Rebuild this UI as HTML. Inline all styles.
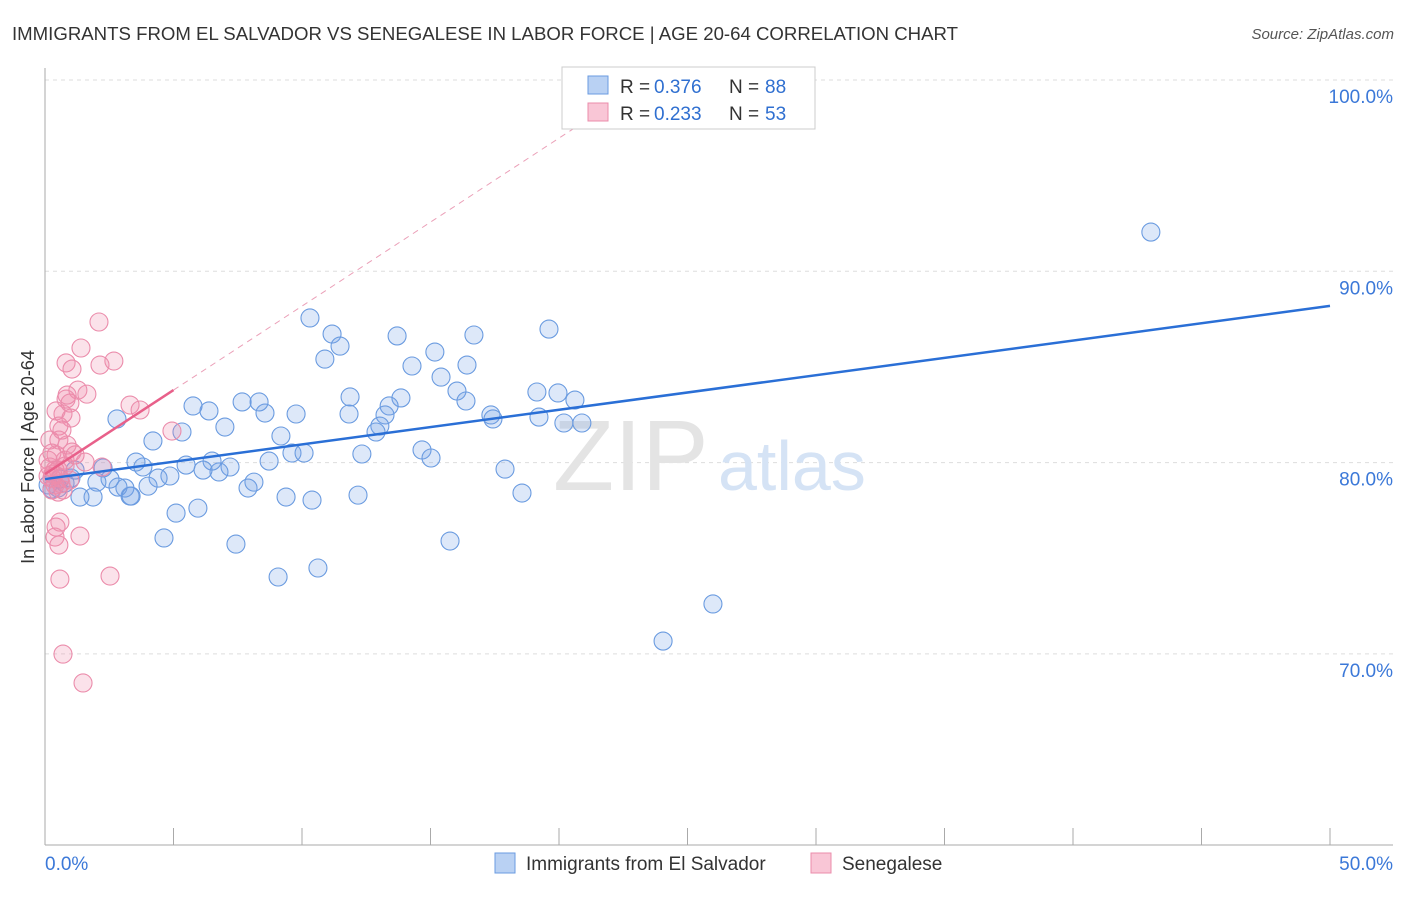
<!DOCTYPE html>
<html><head><meta charset="utf-8"><style>
body{margin:0;background:#fff;font-family:"Liberation Sans",sans-serif}
svg text{font-family:"Liberation Sans",sans-serif}
</style></head><body>
<svg id="chart" width="1406" height="892" viewBox="0 0 1406 892" xmlns="http://www.w3.org/2000/svg">
<text x="12" y="40" font-size="18" fill="#333" textLength="946" lengthAdjust="spacingAndGlyphs">IMMIGRANTS FROM EL SALVADOR VS SENEGALESE IN LABOR FORCE | AGE 20-64 CORRELATION CHART</text>
<text x="1394" y="39" font-size="15" fill="#555" text-anchor="end" font-style="italic">Source: ZipAtlas.com</text>
<g id="grid"></g>
<g><text x="553" y="490" font-size="100" fill="#e4e4e4" font-family="Liberation Serif">ZIP</text><text x="718" y="490" font-size="70" fill="#d5e3f5">atlas</text></g>
<g id="trends"></g>
<g id="pts"></g>
<text transform="translate(34,457) rotate(-90)" font-size="18" fill="#333" text-anchor="middle">In Labor Force | Age 20-64</text>
<g>
<rect x="562" y="67" width="253" height="62" fill="#fff" stroke="#ccc"/>
<rect x="588" y="76" width="20" height="18" fill="#b9d1f3" stroke="#6a9be0"/>
<rect x="588" y="103" width="20" height="18" fill="#f9c6d6" stroke="#eb8cab"/>
<text x="620" y="93" font-size="19" fill="#333">R =</text><text x="654" y="93" font-size="19" fill="#2f6fd0">0.376</text>
<text x="729" y="93" font-size="19" fill="#333">N =</text><text x="765" y="93" font-size="19" fill="#2f6fd0">88</text>
<text x="620" y="120" font-size="19" fill="#333">R =</text><text x="654" y="120" font-size="19" fill="#2f6fd0">0.233</text>
<text x="729" y="120" font-size="19" fill="#333">N =</text><text x="765" y="120" font-size="19" fill="#2f6fd0">53</text>
</g>
<g>
<rect x="495" y="853" width="20" height="20" fill="#b9d1f3" stroke="#6a9be0"/>
<text x="526" y="870" font-size="19" fill="#333">Immigrants from El Salvador</text>
<rect x="811" y="853" width="20" height="20" fill="#f9c6d6" stroke="#eb8cab"/>
<text x="842" y="870" font-size="19" fill="#333">Senegalese</text>
</g>
</svg>
<script>
const yTicks=[100,90,80,70];
const yTickLabels=["100.0%","90.0%","80.0%","70.0%"];
const xTickLabels=["0.0%","50.0%"];
const blueX=[43.03,19.61,10.31,11.17,11.48,10.89,13.70,16.69,15.17,14.28,16.42,15.41,16.03,16.38,11.87,13.85,13.39,13.23,11.83,13.03,12.88,9.77,8.56,7.67,8.33,6.38,5.76,5.33,7.00,4.20,2.80,9.18,8.72,9.61,10.08,12.33,14.67,15.02,17.35,17.43,19.14,19.96,20.62,19.22,20.19,20.89,17.90,18.56,15.76,9.07,10.62,7.43,4.63,5.10,5.95,12.18,10.39,9.38,7.90,8.13,7.20,6.77,6.50,6.15,5.49,4.86,4.40,3.81,3.54,4.01,3.31,3.11,2.84,2.53,2.26,2.02,1.87,1.36,1.01,0.78,0.51,0.27,0.12,1.17,24.05,25.99,0.58,3.35];
const blueY=[92.05,86.98,87.56,86.72,86.09,85.41,86.62,86.67,85.78,85.05,85.10,84.47,83.74,83.22,83.43,83.38,82.96,82.49,82.54,81.91,81.60,82.54,82.59,83.17,83.17,82.70,82.96,81.60,81.86,81.13,82.28,81.39,80.08,80.50,80.50,80.45,80.66,80.24,82.49,82.28,83.69,83.64,83.27,82.38,82.07,82.07,79.66,78.41,75.90,74.02,74.49,75.74,76.06,77.36,77.62,78.30,78.04,78.20,78.67,78.98,79.77,79.51,80.08,79.61,79.87,79.30,79.19,79.77,80.03,78.77,78.25,78.67,78.72,79.14,79.72,78.98,78.20,78.20,79.19,78.93,78.67,78.62,78.83,79.61,70.67,72.61,79.14,78.25];
const pinkX=[2.10,1.40,0.82,2.68,1.05,2.14,1.28,1.63,0.82,0.97,0.70,0.43,1.01,0.54,3.31,3.70,4.94,0.54,0.86,1.05,0.19,0.27,0.43,1.56,2.22,0.78,0.39,0.19,0.58,0.12,0.39,0.70,0.51,0.27,0.58,0.43,0.39,0.54,1.36,0.58,2.53,0.70,1.48,0.78,0.12,0.97,0.27,0.51,1.17,0.66,0.86,0.30,0.62];
const pinkY=[87.35,85.99,85.21,85.31,84.89,85.10,83.79,83.58,83.32,83.11,82.54,82.70,82.33,81.91,83.01,82.75,81.65,81.18,80.92,80.55,81.18,80.50,80.40,80.03,79.77,79.82,79.61,79.77,79.19,79.30,78.83,78.57,78.46,79.19,76.89,76.63,76.11,75.69,76.16,73.91,74.07,69.99,68.48,80.13,80.13,79.09,78.57,79.61,80.40,81.70,83.53,79.40,78.90];
const blueTrend=[79.14,88.19];   // y at x=0, x=50
const pinkTrend=[79.4,83.79];    // y at x=0, x=5
const NS="http://www.w3.org/2000/svg";
const X=v=>45+v/50*1285;
const Y=v=>80+(100-v)*19.13;
function mk(tag,attrs,parent){const e=document.createElementNS(NS,tag);for(const k in attrs)e.setAttribute(k,attrs[k]);parent.appendChild(e);return e;}
const grid=document.getElementById('grid');
yTicks.forEach((t,i)=>{
  const l=mk('line',{x1:45,x2:1393,y1:Y(t),y2:Y(t),stroke:'#ddd','stroke-dasharray':'4,4'},grid);
  
  
  const tx=mk('text',{x:1393,y:Y(t)+23,'font-size':19,fill:'#3b78d8','text-anchor':'end'},grid);
  tx.textContent=yTickLabels[i];
  
  
});
const ax=mk('line',{x1:45,x2:45,y1:68,y2:845,stroke:'#aaa'},grid);


const bx=mk('line',{x1:45,x2:1393,y1:845,y2:845,stroke:'#aaa'},grid);


for(let k=1;k<=10;k++){const t=mk('line',{x1:X(k*5),x2:X(k*5),y1:828,y2:845,stroke:'#aaa'},grid);
  
  }
[[0,'start',45],[50,'end',1393]].forEach((d,i)=>{const t=mk('text',{x:d[2],y:870,'font-size':19,fill:'#3b78d8','text-anchor':d[1]},grid);t.textContent=xTickLabels[i];
  
  });
const tr=document.getElementById('trends');
const ps=(pinkTrend[1]-pinkTrend[0])/5;
const xTop=(100-pinkTrend[0])/ps;
const pd=mk('line',{x1:X(5),y1:Y(pinkTrend[1]),x2:X(xTop),y2:Y(100),stroke:'#eba0b8','stroke-dasharray':'6,5','stroke-width':1},tr);


const pts=document.getElementById('pts');
function dots(xs,ys,fill,stroke,name){xs.forEach((x,i)=>{const c=mk('circle',{cx:X(x),cy:Y(ys[i]),r:9,fill:fill,stroke:stroke,'stroke-width':1.1},pts);
  
  });}
dots(blueX,blueY,'rgba(120,165,230,0.25)','#6a9be0','el-salvador-point');
dots(pinkX,pinkY,'rgba(240,140,170,0.25)','#eb8cab','senegalese-point');
const bl=mk('line',{x1:X(0),y1:Y(blueTrend[0]),x2:X(50),y2:Y(blueTrend[1]),stroke:'#2a6fd6','stroke-width':2.5},pts);


const pl=mk('line',{x1:X(0),y1:Y(pinkTrend[0]),x2:X(5),y2:Y(pinkTrend[1]),stroke:'#e8608a','stroke-width':2.5},pts);


</script>
</body></html>
